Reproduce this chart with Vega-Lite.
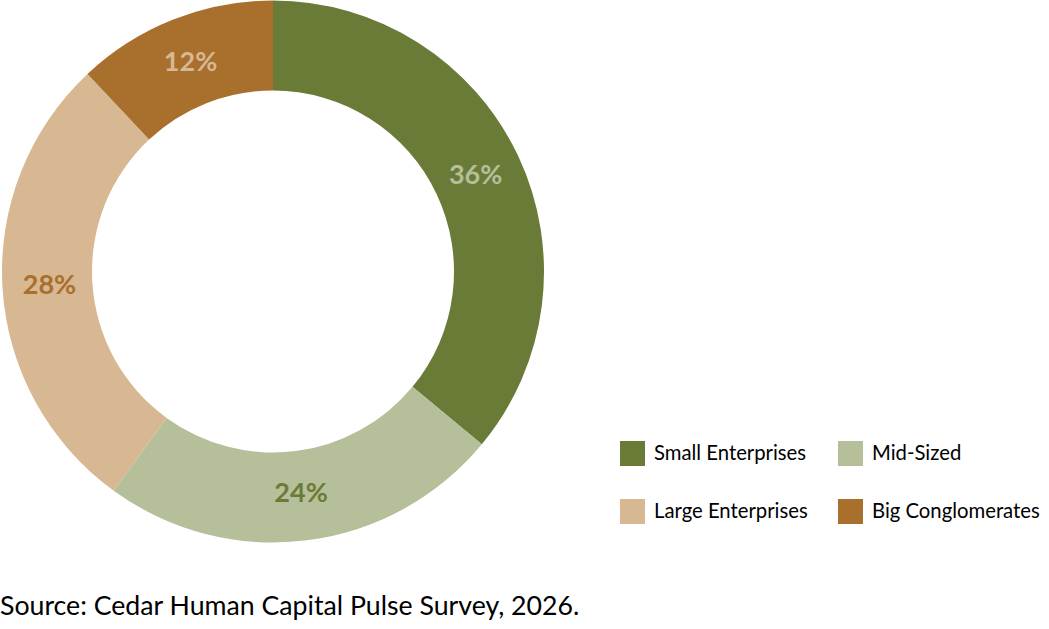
{
  "$schema": "https://vega.github.io/schema/vega-lite/v6.json",
  "width": 546,
  "height": 543,
  "padding": 0,
  "background": "white",
  "config": {"view": {"stroke": null}, "font": "Lato"},
  "title": {
    "text": "Source: Cedar Human Capital Pulse Survey, 2026.",
    "orient": "bottom",
    "anchor": "start",
    "frame": "group",
    "fontSize": 26.7,
    "fontWeight": "normal",
    "font": "Lato",
    "color": "#000000",
    "offset": 51
  },
  "data": {
    "values": [
      {"category": "Small Enterprises", "value": 36, "label": "36%", "rank": 1},
      {"category": "Mid-Sized", "value": 24, "label": "24%", "rank": 2},
      {"category": "Large Enterprises", "value": 28, "label": "28%", "rank": 3},
      {"category": "Big Conglomerates", "value": 12, "label": "12%", "rank": 4}
    ]
  },
  "encoding": {
    "theta": {"field": "value", "type": "quantitative", "stack": true},
    "order": {"field": "rank", "type": "quantitative", "sort": "ascending"}
  },
  "layer": [
    {
      "mark": {"type": "arc", "outerRadius": 271, "innerRadius": 181},
      "encoding": {
        "color": {
          "field": "category",
          "type": "nominal",
          "sort": ["Small Enterprises", "Mid-Sized", "Large Enterprises", "Big Conglomerates"],
          "scale": {
            "domain": ["Small Enterprises", "Mid-Sized", "Large Enterprises", "Big Conglomerates"],
            "range": ["#6A7B37", "#B5BF9A", "#D7B893", "#A96F2C"]
          },
          "legend": {
            "title": null,
            "orient": "none",
            "legendX": 620,
            "legendY": 441,
            "direction": "horizontal",
            "columns": 2,
            "symbolType": "square",
            "symbolSize": 625,
            "symbolStrokeWidth": 0,
            "labelFontSize": 20.3,
            "labelFont": "Lato",
            "labelColor": "#000000",
            "labelOffset": 9,
            "columnPadding": 30,
            "rowPadding": 33,
            "labelLimit": 300
          }
        }
      }
    },
    {
      "mark": {"type": "text", "radius": 224, "fontSize": 27, "fontWeight": "bold", "font": "Lato"},
      "encoding": {
        "text": {"field": "label", "type": "nominal"},
        "color": {
          "field": "category",
          "type": "nominal",
          "sort": ["Small Enterprises", "Mid-Sized", "Large Enterprises", "Big Conglomerates"],
          "scale": {
            "domain": ["Small Enterprises", "Mid-Sized", "Large Enterprises", "Big Conglomerates"],
            "range": ["#B5BF9A", "#6A7B37", "#A96F2C", "#D7B893"]
          },
          "legend": null
        }
      }
    }
  ],
  "resolve": {"scale": {"color": "independent"}}
}
